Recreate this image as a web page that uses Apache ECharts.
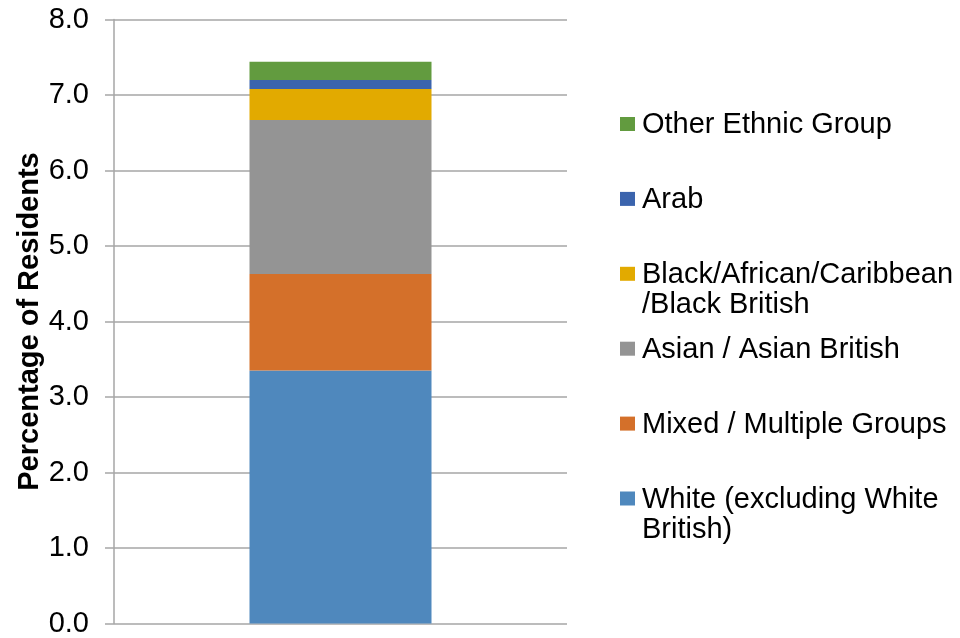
<!DOCTYPE html>
<html>
<head>
<meta charset="utf-8">
<title>Ethnic groups – percentage of residents</title>
<script src="https://cdn.jsdelivr.net/npm/echarts@6/dist/echarts.min.js"></script>
<style>
  html, body { margin: 0; padding: 0; background: #ffffff; }
  #chart { width: 960px; height: 638px; }
</style>
</head>
<body>
<div id="chart"></div>
<script>
// Single stacked column, bottom segment first
const categories = ['Residents'];
const groupNames = [
  'White (excluding White British)',
  'Mixed / Multiple Groups',
  'Asian / Asian British',
  'Black/African/Caribbean/Black British',
  'Arab',
  'Other Ethnic Group'
];
const groupValues = [3.35, 1.28, 2.04, 0.41, 0.12, 0.24];
// Wrapped legend text, same order as groupNames
const legendLines = [
  ['White (excluding White', 'British)'],
  ['Mixed / Multiple Groups'],
  ['Asian / Asian British'],
  ['Black/African/Caribbean', '/Black British'],
  ['Arab'],
  ['Other Ethnic Group']
];
const groupColors = ['#4F88BD', '#D4702A', '#949494', '#E2AA00', '#3B64AD', '#629B3F'];
const yTicks = { min: 0, max: 8, interval: 1 };
const axisTitle = 'Percentage of Residents';

const FONT = '"Liberation Sans", Arial, sans-serif';
const chart = echarts.init(document.getElementById('chart'), null, { renderer: 'canvas' });

const series = groupNames.map((name, i) => ({
  name: name,
  type: 'bar',
  stack: 'total',
  barWidth: 182,
  data: [groupValues[i]],
  itemStyle: { color: groupColors[i] },
  emphasis: { disabled: true }
}));

// Legend: top entry is the last stacked segment
const legendGraphics = [];
const slotTop = 124, slotStep = 74.9;
for (let k = 0; k < groupNames.length; k++) {
  const i = groupNames.length - 1 - k;
  const cy = slotTop + k * slotStep;
  legendGraphics.push({
    type: 'rect',
    shape: { x: 620, y: cy - 7, width: 15, height: 14 },
    style: { fill: groupColors[i] },
    silent: true
  });
  legendGraphics.push({
    type: 'text',
    x: 642,
    y: cy - 14,
    style: {
      text: legendLines[i].join('\n'),
      font: '29px ' + FONT,
      fill: '#000000',
      lineHeight: 30,
      verticalAlign: 'top',
      align: 'left'
    },
    silent: true
  });
}

chart.setOption({
  animation: false,
  backgroundColor: '#ffffff',
  grid: { left: 114, right: 393, top: 19.5, bottom: 14.5, containLabel: false },
  legend: { show: false },
  xAxis: {
    type: 'category',
    data: categories,
    axisLine: { show: false },
    axisTick: { show: false },
    axisLabel: { show: false }
  },
  yAxis: {
    type: 'value',
    min: yTicks.min,
    max: yTicks.max,
    interval: yTicks.interval,
    name: axisTitle,
    nameLocation: 'middle',
    nameRotate: 90,
    nameGap: 69,
    nameTextStyle: { fontFamily: FONT, fontSize: 29, fontWeight: 'bold', color: '#000000' },
    axisLine: { show: true, lineStyle: { color: '#A6A6A6', width: 1.5 } },
    axisTick: { show: true, length: 9, lineStyle: { color: '#A6A6A6', width: 1.5 } },
    axisLabel: {
      margin: 25,
      fontFamily: FONT,
      fontSize: 29,
      color: '#000000',
      formatter: v => v.toFixed(1)
    },
    splitLine: { show: true, lineStyle: { color: '#A6A6A6', width: 1.5 } }
  },
  series: series,
  graphic: legendGraphics
});
</script>
</body>
</html>
